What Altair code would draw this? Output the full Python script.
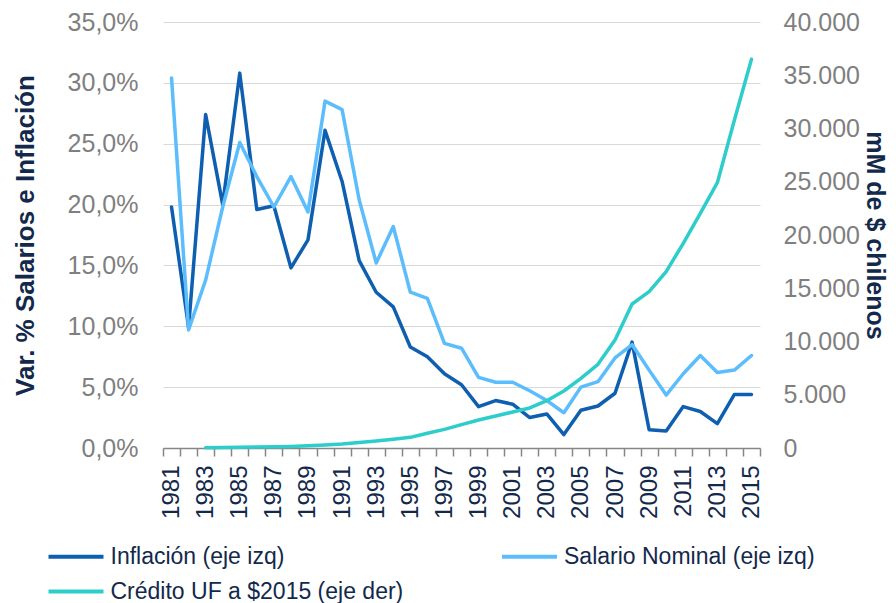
import altair as alt
import pandas as pd

years = list(range(1981, 2016))
inflacion = [19.8, 9.9, 27.4, 20.0, 30.8, 19.6, 19.9, 14.8, 17.1, 26.1, 21.9, 15.4, 12.8, 11.6,
             8.3, 7.5, 6.1, 5.2, 3.4, 3.9, 3.6, 2.5, 2.8, 1.1,
             3.1, 3.45, 4.5, 8.7, 1.5, 1.4, 3.4, 3.0, 2.0, 4.4, 4.4]
salario = [30.4, 9.7, 13.8, 19.8, 25.1, 22.3, 19.8, 22.3, 19.4, 28.5, 27.8, 20.4, 15.2, 18.2,
           12.8, 12.3, 8.6, 8.2, 5.8, 5.4, 5.4, 4.7, 3.9, 2.9,
           5.0, 5.45, 7.4, 8.5, 6.4, 4.35, 6.1, 7.6, 6.2, 6.4, 7.6]
credito = [None, None, 30, 50, 70, 90, 110, 140, 200, 280, 380, 520, 660, 815,
           1000, 1380, 1750, 2190, 2630, 3000, 3380, 3760, 4440, 5350,
           6540, 7860, 10140, 13520, 14680, 16560, 19220, 22040, 24910, 30800, 36500]

series = ["Inflación (eje izq)", "Salario Nominal (eje izq)", "Crédito UF a $2015 (eje der)"]
colors = ["#0f5fb0", "#5bbdfb", "#2ccdca"]

rows_left = []
for y, a, b in zip(years, inflacion, salario):
    rows_left.append({"year": str(y), "serie": series[0], "valor": a})
    rows_left.append({"year": str(y), "serie": series[1], "valor": b})
df_left = pd.DataFrame(rows_left)
df_right = pd.DataFrame([{"year": str(y), "serie": series[2], "valor": c}
                         for y, c in zip(years, credito) if c is not None])

FONT = "Liberation Sans"
NAVY = "#13294b"
GREY = "#7f7f7f"

x_enc = alt.X(
    "year:O",
    bandPosition=0.5,
    scale=alt.Scale(type="band", paddingInner=0, paddingOuter=0),
    axis=alt.Axis(
        title=None, labelAngle=-90, labelFontSize=24, labelColor=NAVY, labelFont=FONT,
        tickBand="extent", tickSize=8, tickColor="#868686", tickWidth=1.5,
        domainColor="#868686", domainWidth=1.5, labelPadding=9, grid=False,
        labelExpr="toNumber(datum.value) % 2 == 1 ? datum.value : ''",
    ),
)

legend = alt.Legend(
    title=None, orient="none", legendX=-98.5, legendY=523, columns=2, direction="horizontal",
    symbolType="M-3,0H3", symbolSize=336, symbolStrokeWidth=4,
    labelFontSize=23, labelFont=FONT, labelColor=NAVY, labelOffset=23,
    columnPadding=90.5, rowPadding=11, labelLimit=400,
)
color_enc = alt.Color("serie:N", scale=alt.Scale(domain=series, range=colors),
                      sort=series, legend=legend)

left = alt.Chart(df_left).mark_line(strokeWidth=3.5, strokeJoin="round", strokeCap="round").encode(
    x=x_enc,
    y=alt.Y("valor:Q", scale=alt.Scale(domain=[0, 35]),
            axis=alt.Axis(values=[0, 5, 10, 15, 20, 25, 30, 35],
                          labelExpr="replace(format(datum.value, '.1f'), '.', ',') + '%'",
                          labelFontSize=25, labelFont=FONT, labelColor=GREY, labelPadding=25,
                          ticks=False, domain=False, grid=True, gridColor="#d9d9d9", gridWidth=1,
                          title="Var. % Salarios e Inflación", titleFont=FONT, titleFontSize=26,
                          titleFontWeight="bold", titleColor=NAVY, titleAngle=-90,
                          titleBaseline="middle", titleX=-138, titleY=213)),
    color=color_enc,
    order=alt.Order("year:O"),
)

right = alt.Chart(df_right).mark_line(strokeWidth=3.5, strokeJoin="round", strokeCap="round").encode(
    x=x_enc,
    y=alt.Y("valor:Q", scale=alt.Scale(domain=[0, 40000]),
            axis=alt.Axis(orient="right", values=list(range(0, 40001, 5000)),
                          labelExpr="replace(format(datum.value, ','), ',', '.')",
                          labelFontSize=25, labelFont=FONT, labelColor=GREY, labelPadding=23,
                          ticks=False, domain=False, grid=False,
                          title="mM de $ chilenos", titleFont=FONT, titleFontSize=25,
                          titleFontWeight="bold", titleColor=NAVY, titleAngle=90,
                          titleBaseline="middle", titleX=114, titleY=213)),
    color=color_enc,
    order=alt.Order("year:O"),
)

chart = alt.layer(left, right).resolve_scale(y="independent").properties(
    width=597, height=426,
    padding={"left": 155, "top": 14, "right": 128, "bottom": 155},
    autosize=alt.AutoSizeParams(type="none"),
).configure_view(stroke=None)

chart.save("out.html", embed_options={"renderer": "svg", "actions": False})
